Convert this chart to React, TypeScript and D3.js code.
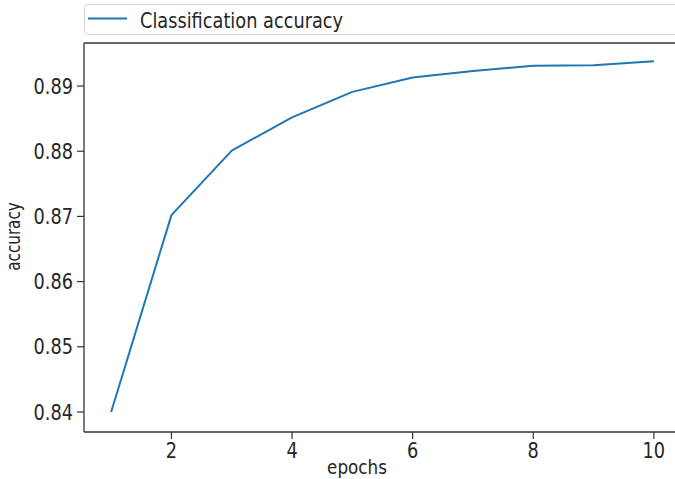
import React from "react";
import * as d3 from "d3";

const epochs = [1, 2, 3, 4, 5, 6, 7, 8, 9, 10];
const accuracy = [0.84, 0.8702, 0.8801, 0.8852, 0.8891, 0.8913, 0.8923, 0.8931, 0.8932, 0.8938];
const xTicks = [2, 4, 6, 8, 10];
const yTicks = [0.84, 0.85, 0.86, 0.87, 0.88, 0.89];
const seriesName = "Classification accuracy";

const W = 675;
const H = 479;
const M = { left: 84, top: 43, right: 681, bottom: 432 };
const FONT = "DejaVu Sans, sans-serif";
const BLUE = "#1f77b4";
const TXT = "#262626";
const FS = 21;
const SX = 0.845;

export default function App() {
  const x = d3.scaleLinear().domain([0.55, 10.45]).range([M.left, M.right]);
  const y = d3.scaleLinear().domain([0.83693, 0.8966]).range([M.bottom, M.top]);
  const line = d3
    .line<number>()
    .x((_, i) => x(epochs[i]))
    .y((d) => y(d));

  return (
    <svg
      width={W}
      height={H}
      style={{ position: "absolute", left: 0, top: 0, background: "#fff" }}
      fontFamily={FONT}
    >
      <rect x={0} y={0} width={W} height={H} fill="#fff" />
      {/* legend */}
      <rect x={84.5} y={4.5} width={620} height={30} rx={3} fill="#fff" stroke="#d6d6d6" />
      <line x1={88} x2={127} y1={18.5} y2={18.5} stroke={BLUE} strokeWidth={2} />
      <text transform={`translate(140,28) scale(${SX},1)`} fontSize={FS} fill={TXT}>
        {seriesName}
      </text>

      {/* line */}
      <path d={line(accuracy) || ""} fill="none" stroke={BLUE} strokeWidth={2} strokeLinejoin="round" />

      {/* spines */}
      <line x1={M.left} x2={M.left} y1={M.top} y2={M.bottom} stroke="#333" strokeWidth={1.3} />
      <line x1={M.left} x2={M.right} y1={M.bottom} y2={M.bottom} stroke="#333" strokeWidth={1.3} />
      <line x1={M.left} x2={M.right} y1={M.top} y2={M.top} stroke="#333" strokeWidth={1.3} />

      {/* x ticks */}
      {xTicks.map((t) => (
        <g key={t} transform={`translate(${x(t)},${M.bottom})`}>
          <line y1={0} y2={7} stroke="#333" strokeWidth={1.2} />
          <text
            transform={`translate(0,26) scale(${SX},1)`}
            textAnchor="middle"
            fontSize={FS}
            fill={TXT}
          >
            {t}
          </text>
        </g>
      ))}
      {/* y ticks */}
      {yTicks.map((t) => (
        <g key={t} transform={`translate(${M.left},${y(t)})`}>
          <line x1={0} x2={-7} stroke="#333" strokeWidth={1.2} />
          <text
            transform={`translate(-11,7.6) scale(${SX},1)`}
            textAnchor="end"
            fontSize={FS}
            fill={TXT}
          >
            {t.toFixed(2)}
          </text>
        </g>
      ))}
      <text
        transform={`translate(357,474) scale(0.84,1)`}
        textAnchor="middle"
        fontSize={20}
        fill={TXT}
      >
        epochs
      </text>
      <text
        transform={`translate(19.5,236.5) rotate(-90) scale(0.8,1)`}
        textAnchor="middle"
        fontSize={19}
        fill={TXT}
      >
        accuracy
      </text>
    </svg>
  );
}
